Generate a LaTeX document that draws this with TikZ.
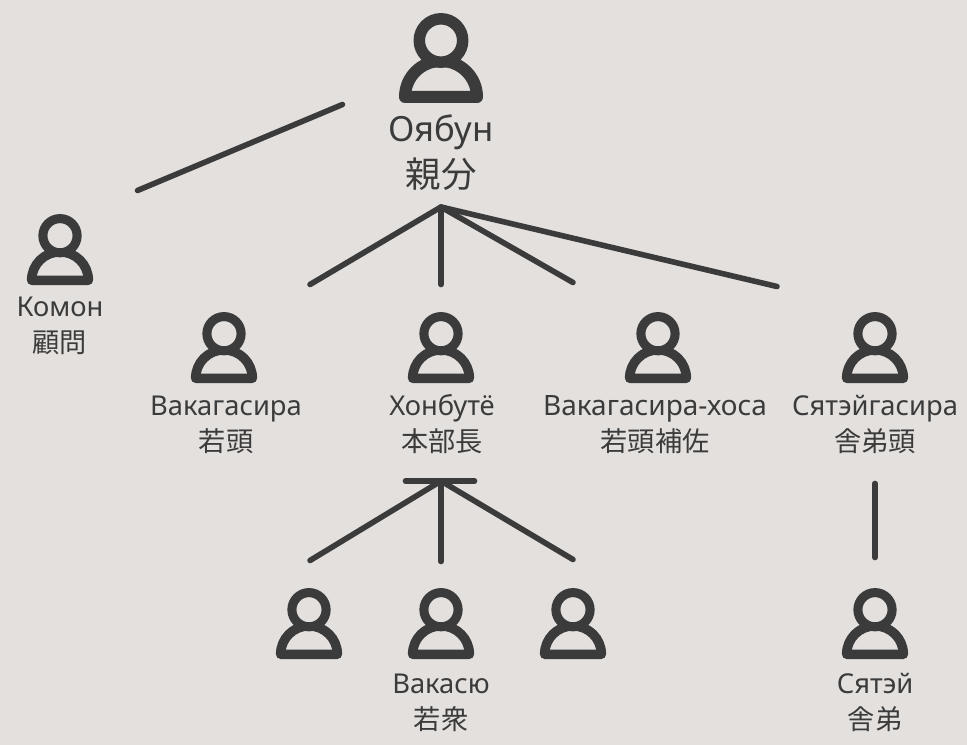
\documentclass[tikz,border=0pt]{standalone}
\usepackage{fontspec}
\setmainfont{Noto Sans}
\newfontfamily\cjk{Noto Sans CJK JP}
\definecolor{bgc}{HTML}{E3E0DE}
\definecolor{ink}{HTML}{3B3B3B}
\tikzset{
  x=0.75pt,y=-0.75pt,
  conn/.style={draw=ink,line width=4.2pt,line cap=round},
  smalltext/.style={text=ink,font=\fontsize{20.5}{24}\selectfont,inner sep=0pt,anchor=base},
  smallcjk/.style={text=ink,font=\cjk\fontsize{20.4}{24}\selectfont,inner sep=0pt,anchor=center},
  bigtext/.style={text=ink,font=\fontsize{26}{31}\selectfont,inner sep=0pt,anchor=base},
  bigcjk/.style={text=ink,font=\cjk\fontsize{26.6}{31}\selectfont,inner sep=0pt,anchor=center},
  pics/personbig/.style={code={
    \draw[ink,line width=9pt,line join=round] (-36,84) -- (36,84) arc[start angle=0,end angle=-180,radius=36] -- cycle;
    \draw[ink,fill=bgc,line width=8.6pt] (0,27.5) circle (21.7);
  }},
  pics/personsmall/.style={code={
    \draw[ink,line width=7.1pt,line join=round] (-28.4,66.3) -- (28.4,66.3) arc[start angle=0,end angle=-180,radius=28.4] -- cycle;
    \draw[ink,fill=bgc,line width=6.8pt] (0,21.7) circle (17.1);
  }},
}
\begin{document}
\begin{tikzpicture}
\useasboundingbox[fill=bgc] (0,0) rectangle (967,745);
% icons
\pic (boss) at (441,13) {personbig};
\pic (komon) at (60,214) {personsmall};
\pic (waka) at (224,312) {personsmall};
\pic (hon) at (441,312) {personsmall};
\pic (hosa) at (658,312) {personsmall};
\pic (shatei) at (875,312) {personsmall};
\pic (w1) at (309,588) {personsmall};
\pic (w2) at (441,588) {personsmall};
\pic (w3) at (573,588) {personsmall};
\pic (s1) at (875,588) {personsmall};
% labels
\node[bigtext] (tboss) at (441,142) {Оябун};
\node[bigcjk] (jboss) at (441,174) {親分};
\node[smalltext] (tkomon) at (60,316.5) {Комон};
\node[smallcjk] (jkomon) at (60,342.5) {顧問};
\node[smalltext] (twaka) at (226,415.5) {Вакагасира};
\node[smallcjk] (jwaka) at (226,441) {若頭};
\node[smalltext] (thon) at (442,415.5) {Хонбутё};
\node[smallcjk] (jhon) at (442,441) {本部長};
\node[smalltext,font=\fontsize{21}{24}\selectfont] (thosa) at (655,415.5) {Вакагасира-хоса};
\node[smallcjk] (jhosa) at (655,441) {若頭補佐};
\node[smalltext] (tshatei) at (875,415.5) {Сятэйгасира};
\node[smallcjk] (jshatei) at (875,441) {舎弟頭};
\node[smalltext] (tw) at (441,693.5) {Вакасю};
\node[smallcjk] (jw) at (441,719) {若衆};
\node[smalltext] (ts) at (875,693.5) {Сятэй};
\node[smallcjk] (js) at (875,719) {舎弟};
% connector ends
\coordinate (a1) at (137.5,190.5);
\coordinate (a2) at (342.5,104.5);
\coordinate (hub) at (441,207);
\coordinate (h1) at (310,284.5);
\coordinate (h2) at (441,284.5);
\coordinate (h3) at (573,282.5);
\coordinate (h4) at (777,286.5);
\coordinate (barL) at (405.5,481);
\coordinate (barR) at (474.5,481);
\coordinate (hub2) at (441,481);
\coordinate (k1) at (310,560.5);
\coordinate (k2) at (441,561.5);
\coordinate (k3) at (573,559.5);
\coordinate (v1) at (875,483.5);
\coordinate (v2) at (875,557.5);
% connectors
\draw[conn] (a1) -- (a2);
\draw[conn,line join=round] (h1) -- (hub) -- (h3);
\draw[conn] (hub) -- (h2);
\draw[conn] (hub) -- (h4);
\draw[conn] (barL) -- (barR);
\draw[conn] (hub2) -- (k1);
\draw[conn] (hub2) -- (k2);
\draw[conn] (hub2) -- (k3);
\draw[conn] (v1) -- (v2);
\end{tikzpicture}
\end{document}
